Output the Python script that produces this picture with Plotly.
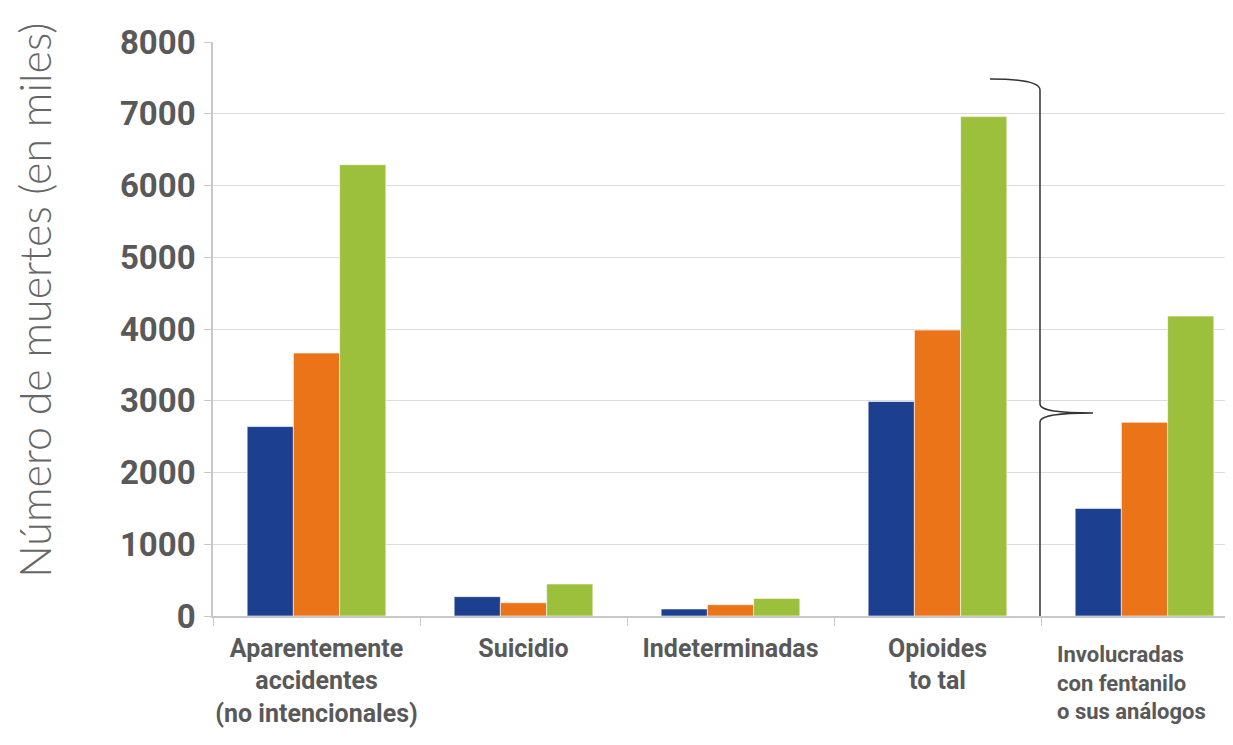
import plotly.graph_objects as go

categories = ["Aparentemente<br>accidentes<br>(no intencionales)", "Suicidio", "Indeterminadas",
              "Opioides<br>to tal", "Involucradas<br>con fentanilo<br>o sus análogos"]
serie_1 = [2640, 270, 98, 2990, 1500]
serie_2 = [3665, 185, 158, 3985, 2700]
serie_3 = [6290, 446, 245, 6960, 4180]
y_ticks = [0, 1000, 2000, 3000, 4000, 5000, 6000, 7000, 8000]

colors = ["#1c3f8f", "#ec7418", "#9dc03c"]
names = ["Serie 1", "Serie 2", "Serie 3"]

fig = go.Figure()
for vals, c, n in zip([serie_1, serie_2, serie_3], colors, names):
    fig.add_trace(go.Bar(x=categories, y=vals, name=n, marker=dict(color=c, line=dict(color="white", width=0.6))))

grey = "#595959"
fig.update_layout(
    width=1225, height=737,
    margin=dict(l=205, r=0, t=34, b=129, autoexpand=False),
    plot_bgcolor="white", paper_bgcolor="white",
    barmode="group", bargap=0.33, bargroupgap=0,
    showlegend=False,
)
ticktext = categories[:4] + [""]
fig.update_xaxes(
    type="category", range=[-0.5, 4.4275],
    tickmode="array", tickvals=categories, ticktext=ticktext,
    tickson="boundaries", ticks="outside", ticklen=8, tickcolor="#c8c8c8",
    showline=True, linecolor="#c8c8c8", linewidth=1.5,
    tickfont=dict(family="Roboto", size=25, color=grey, weight="bold"),
    tickangle=0, automargin=False,
    ticklabelstandoff=9, showgrid=False,
)
fig.update_yaxes(
    range=[0, 8000], tickvals=y_ticks,
    showgrid=True, gridcolor="#dcdcdc", gridwidth=1.2,
    showline=True, linecolor="#c8c8c8", linewidth=1.5,
    ticks="outside", ticklen=7, tickcolor="#c8c8c8",
    tickfont=dict(family="Roboto", size=33, color=grey, weight="bold"),
    ticklabelstandoff=2, automargin=False,
    zeroline=False,
)

fig.add_annotation(
    x=-0.175, y=0.55, xref="paper", yref="paper", xanchor="center", yanchor="middle",
    textangle=-90, text="Número de muertes (en miles)", showarrow=False,
    font=dict(family="Lato", size=43, color="#666666", weight=300),
)

fig.add_annotation(
    x=categories[4], y=0, xref="x", yref="y", yanchor="top", xanchor="left", align="left",
    xshift=-90, yshift=-24,
    text="Involucradas<br>con fentanilo<br>o sus análogos", showarrow=False,
    font=dict(family="Roboto", size=22, color=grey, weight="bold"),
)

# curly brace
def px_x(p):
    return (p - 213) / 1020.0

def px_y(p):
    return (616 - p) / 71.75 * 1000

pts = [
    ("M", [(990, 79)]),
    ("C", [(1020, 79), (1040, 82), (1040, 90)]),
    ("L", [(1040, 404)]),
    ("C", [(1040, 411), (1060, 413), (1093, 413)]),
    ("C", [(1060, 413), (1040, 415), (1040, 422)]),
    ("L", [(1040, 736)]),
    ("C", [(1040, 742), (1030, 745), (1015, 746)]),
]
path = ""
for cmd, ps in pts:
    path += cmd + " " + " ".join(f"{px_x(a):.5f},{px_y(b):.2f}" for a, b in ps) + " "
fig.add_shape(type="path", path=path.strip(), xref="paper", yref="y",
              line=dict(color="#333333", width=1.5), layer="above")

fig.write_html("out.html")
